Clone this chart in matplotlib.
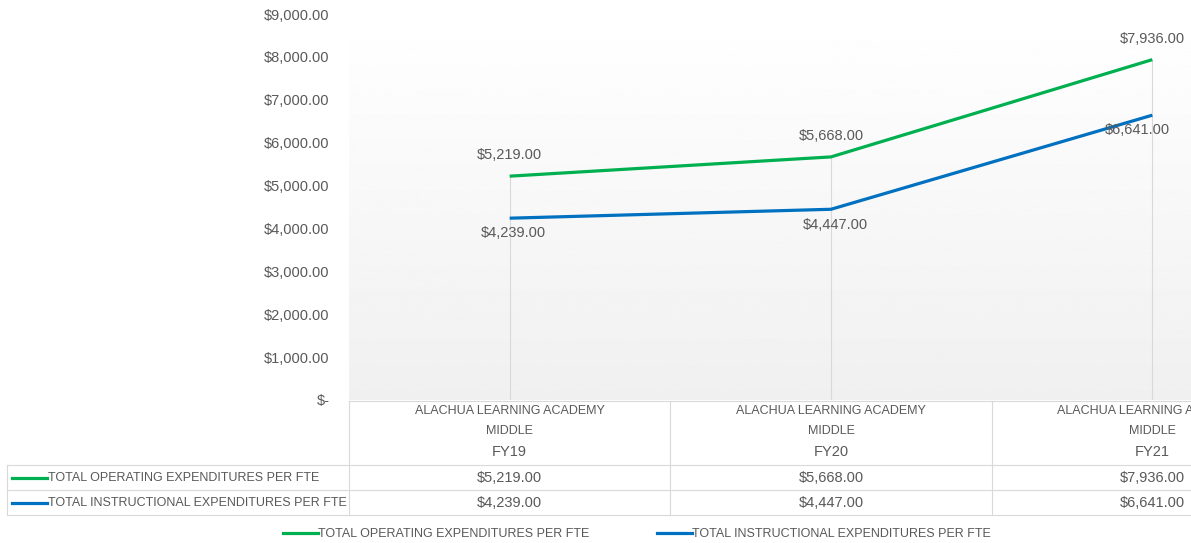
import numpy as np
import matplotlib.pyplot as plt
import matplotlib.transforms as mtransforms

# data
school = ["ALACHUA LEARNING ACADEMY", "MIDDLE"]
years = ["FY19", "FY20", "FY21"]
series_names = ["TOTAL OPERATING EXPENDITURES PER FTE",
                "TOTAL INSTRUCTIONAL EXPENDITURES PER FTE"]
operating = [5219, 5668, 7936]
instructional = [4239, 4447, 6641]
colors = ["#00B050", "#0070C0"]

text_color = "#595959"
grid_color = "#D9D9D9"
plt.rcParams['font.family'] = ['Liberation Sans', 'DejaVu Sans']
fs_num = 10.5   # numbers
fs_cap = 9.0    # upper-case labels

W, H = 1191, 543
fig = plt.figure(figsize=(W / 100, H / 100), dpi=100)

# plot area (wider than the figure, the chart is cut on the right)
px_left, px_bottom, px_top = 349, 400, 14
px_width = 964
ax = fig.add_axes([px_left / W, 1 - px_bottom / H, px_width / W, (px_bottom - px_top) / H])
ax.set_xlim(-0.5, 2.5)
ax.set_ylim(0, 9000)
for s in ax.spines.values():
    s.set_visible(False)

# gradient background
grad = np.linspace(1.0, 0.94, 256).reshape(-1, 1)
ax.imshow(grad, cmap='gray', vmin=0, vmax=1, aspect='auto',
          extent=[-0.5, 2.5, 0, 9000], zorder=0)

x = np.arange(len(years))
all_vals = [operating, instructional]

# drop lines
ax.vlines(x, 0, np.max(all_vals, axis=0), color=grid_color, lw=0.8, zorder=1)

for vals, c in zip(all_vals, colors):
    ax.plot(x, vals, color=c, lw=2.3, solid_capstyle='butt', zorder=3)

# data labels
for i, v in enumerate(operating):
    ax.annotate(f"${v:,.2f}", (x[i], v), xytext=(0, 15), textcoords='offset points',
                ha='center', va='center', fontsize=fs_num, color=text_color)
for i, v in enumerate(instructional):
    dx = -11 if i == len(years) - 1 else 3
    ax.annotate(f"${v:,.2f}", (x[i], v), xytext=(dx, -11), textcoords='offset points',
                ha='center', va='center', fontsize=fs_num, color=text_color)

ax.set_xticks([])
ax.set_yticks(np.arange(0, 9001, 1000))
ax.set_yticklabels(["$-" if t == 0 else f"${t:,.2f}" for t in np.arange(0, 9001, 1000)],
                   fontsize=fs_num, color=text_color)
ax.tick_params(axis='y', length=0, pad=14)
for lab in ax.get_yticklabels():
    lab.set_ha('right')

# data table below the plot
def ay(py):
    return (px_bottom - py) / (px_bottom - px_top)

tr = mtransforms.blended_transform_factory(ax.transData, ax.transAxes)
left_edge = (7 - px_left) / px_width
kw = dict(color=grid_color, lw=0.8, clip_on=False)

ax.plot([-0.5, 2.5], [ay(401)] * 2, transform=tr, **kw)
for py in [465, 490, 515]:
    ax.plot([left_edge, 1], [ay(py)] * 2, transform=ax.transAxes, **kw)
for b in np.arange(-0.5, 2.6, 1.0):
    ax.plot([b, b], [ay(401), ay(515)], transform=tr, **kw)
ax.plot([left_edge] * 2, [ay(465), ay(515)], transform=ax.transAxes, **kw)

for i in range(len(years)):
    ax.text(x[i], ay(411), school[0], transform=tr, ha='center', va='center',
            fontsize=fs_cap, color=text_color, clip_on=False)
    ax.text(x[i], ay(431), school[1], transform=tr, ha='center', va='center',
            fontsize=fs_cap, color=text_color, clip_on=False)
    ax.text(x[i], ay(452), years[i], transform=tr, ha='center', va='center',
            fontsize=fs_num, color=text_color, clip_on=False)
    for vals, py in zip(all_vals, [478, 503]):
        ax.text(x[i], ay(py), f"${vals[i]:,.2f}", transform=tr, ha='center', va='center',
                fontsize=fs_num, color=text_color, clip_on=False)

for name, c, py in zip(series_names, colors, [478, 503]):
    ax.plot([(12 - px_left) / px_width, (47 - px_left) / px_width], [ay(py)] * 2,
            transform=ax.transAxes, color=c, lw=2.3, clip_on=False)
    ax.text((48 - px_left) / px_width, ay(py), name, transform=ax.transAxes,
            ha='left', va='center', fontsize=fs_cap, color=text_color, clip_on=False)

# legend
handles = [plt.Line2D([], [], color=c, lw=2.3) for c in colors]
fig.legend(handles, series_names, loc='center', bbox_to_anchor=(637 / W, 1 - 534 / H),
           ncol=2, frameon=False, fontsize=fs_cap, labelcolor=text_color,
           handlelength=2.8, handletextpad=0.0, columnspacing=5.4)

fig.savefig("out.png", dpi=100)
